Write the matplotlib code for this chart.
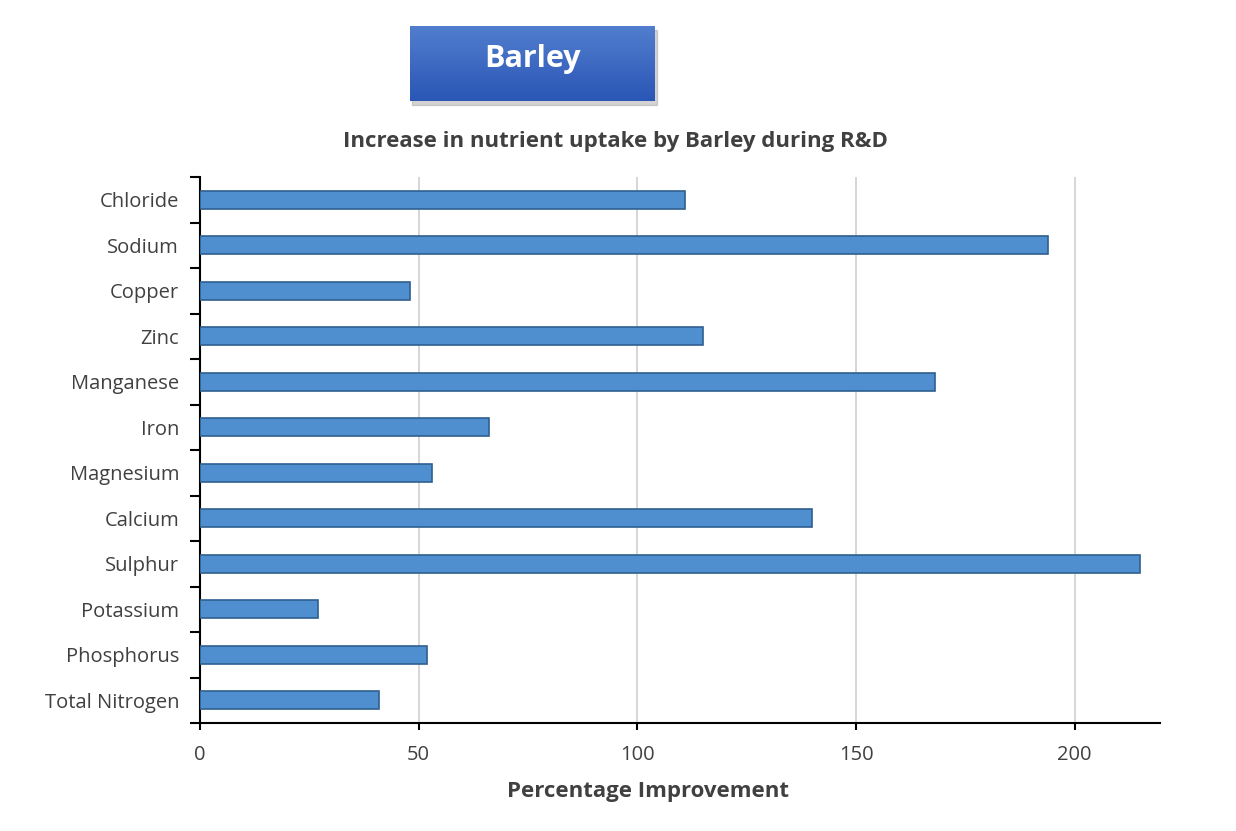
import matplotlib.pyplot as plt
from matplotlib.patches import Rectangle
import numpy as np

# Data (top to bottom)
nutrients = ['Chloride', 'Sodium', 'Copper', 'Zinc', 'Manganese', 'Iron',
             'Magnesium', 'Calcium', 'Sulphur', 'Potassium', 'Phosphorus',
             'Total Nitrogen']
improvement = [111, 194, 48, 115, 168, 66, 53, 140, 215, 27, 52, 41]
x_ticks = [0, 50, 100, 150, 200]

plt.rcParams['font.family'] = ['Open Sans', 'DejaVu Sans']
TEXT = '#404040'

fig = plt.figure(figsize=(12.36, 8.31), dpi=100)
ax = fig.add_axes([200 / 1236, 1 - 723 / 831, 960 / 1236, (723 - 177) / 831])

# reverse so the first category sits on top
y = np.arange(len(nutrients))[::-1]
ax.barh(y, improvement, height=0.4, color='#4f8fcf', edgecolor='#2f5f8f',
        linewidth=1.2, zorder=3)

ax.set_xlim(0, 219.5)
ax.set_ylim(-0.5, len(nutrients) - 0.5)
ax.set_xticks(x_ticks)
ax.set_xticklabels([str(t) for t in x_ticks], fontsize=14.5, color=TEXT)
ax.tick_params(axis='x', length=5, width=1.5, pad=11)

# category labels in the middle, ticks on the boundaries
ax.set_yticks(y)
ax.set_yticklabels(nutrients, fontsize=14.5, color=TEXT)
ax.tick_params(axis='y', length=0, pad=15)
ax.set_yticks(np.arange(-0.5, len(nutrients)), minor=True)
ax.tick_params(axis='y', which='minor', length=7, width=1.5)

ax.xaxis.grid(True, color='#d0d0d0', linewidth=1.2, zorder=0)
for side in ['top', 'right']:
    ax.spines[side].set_visible(False)
ax.spines['left'].set_linewidth(1.5)
ax.spines['bottom'].set_linewidth(1.5)

ax.set_xlabel('Percentage Improvement', fontsize=16, fontweight='bold',
              color=TEXT)
ax.xaxis.set_label_coords(0.467, -0.107)
fig.text(615 / 1236, 1 - 142 / 831, 'Increase in nutrient uptake by Barley during R&D',
         ha='center', va='center', fontsize=16, fontweight='bold', color=TEXT)

# the "Barley" header box with a shadow and a vertical gradient
bx, by, bw, bh = 410 / 1236, 1 - 101 / 831, 245 / 1236, 75 / 831
shadow = Rectangle((bx + 0.002, by - 0.005), bw, bh, transform=fig.transFigure,
                   color='#a8a8a8', alpha=0.5, zorder=1)
fig.patches.append(shadow)
grad = np.linspace(0, 1, 100).reshape(-1, 1)
top_c = np.array([0x52, 0x7e, 0xcf]) / 255
bot_c = np.array([0x2a, 0x56, 0xb6]) / 255
img = grad * bot_c + (1 - grad) * top_c
bax = fig.add_axes([bx, by, bw, bh])
bax.set_zorder(5)
bax.imshow(img.reshape(100, 1, 3), aspect='auto', extent=[0, 1, 0, 1])
bax.set_axis_off()
bax.text(0.5, 0.56, 'Barley', ha='center', va='center', fontsize=22,
         fontweight='bold', color='white', transform=bax.transAxes)

fig.savefig('out.png', dpi=100)
